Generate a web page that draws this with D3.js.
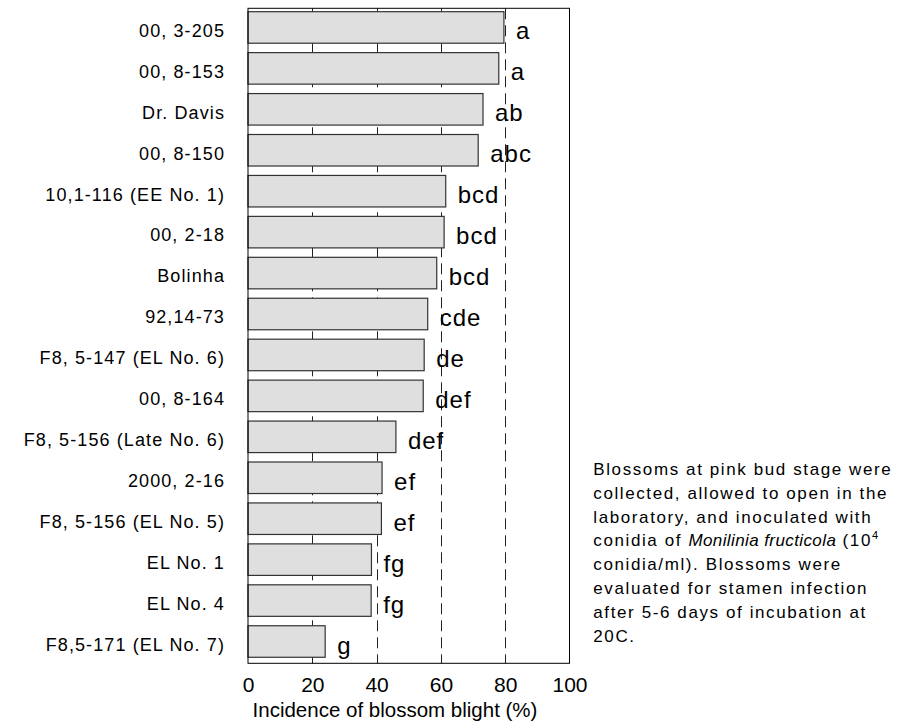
<!DOCTYPE html>
<html>
<head>
<meta charset="utf-8">
<script src="https://cdn.jsdelivr.net/npm/d3@7"></script>
<style>
body { margin: 0; background: #fff; }
text { font-family: Arial, "Liberation Sans", sans-serif; fill: #000; }
</style>
</head>
<body>
<div id="chart"></div>
<script>
// data
var cultivars = ["00, 3-205", "00, 8-153", "Dr. Davis", "00, 8-150", "10,1-116 (EE No. 1)",
    "00, 2-18", "Bolinha", "92,14-73", "F8, 5-147 (EL No. 6)", "00, 8-164",
    "F8, 5-156 (Late No. 6)", "2000, 2-16", "F8, 5-156 (EL No. 5)", "EL No. 1",
    "EL No. 4", "F8,5-171 (EL No. 7)"];
var incidence = [79.6, 78.0, 73.1, 71.6, 61.5, 61.0, 58.7, 55.9, 54.8, 54.5, 46.0, 41.7, 41.5, 38.4, 38.3, 24.0];
var groups = ["a", "a", "ab", "abc", "bcd", "bcd", "bcd", "cde", "de", "def", "def", "ef", "ef", "fg", "fg", "g"];
var xTicks = [0, 20, 40, 60, 80, 100];
var gridValues = [20, 40, 60, 80];
var xTitle = "Incidence of blossom blight (%)";
var noteLines = [
    [{t: "Blossoms at pink bud stage were"}],
    [{t: "collected, allowed to open in the"}],
    [{t: "laboratory, and inoculated with"}],
    [{t: "conidia of "}, {t: "Monilinia fructicola", it: true}, {t: " (10"}, {t: "4", sup: true}],
    [{t: "conidia/ml). Blossoms were"}],
    [{t: "evaluated for stamen infection"}],
    [{t: "after 5-6 days of incubation at"}],
    [{t: "20C."}]
];

var W = 898, H = 727;
var plot = {left: 248, right: 569.5, top: 8.3, bottom: 663.3};

var svg = d3.select("#chart").append("svg")
    .attr("width", W)
    .attr("height", H);

var x = d3.scaleLinear()
    .domain([0, 100])
    .range([plot.left, plot.right]);

var y = d3.scaleBand()
    .domain(cultivars)
    .range([plot.top, plot.bottom])
    .paddingInner(0.23)
    .paddingOuter(0.115)
    .align(0.36);

// dashed reference lines behind the bars
svg.append("g").selectAll("line")
    .data(gridValues)
    .enter().append("line")
    .attr("x1", function(d) { return Math.round(x(d)) + 0.5; })
    .attr("x2", function(d) { return Math.round(x(d)) + 0.5; })
    .attr("y1", plot.top)
    .attr("y2", plot.bottom)
    .style("stroke", "#222")
    .style("stroke-width", 1)
    .style("stroke-dasharray", "11,6");

var rows = cultivars.map(function(c, i) {
    return {name: c, value: incidence[i], group: groups[i]};
});

// bars
svg.append("g").selectAll("rect")
    .data(rows)
    .enter().append("rect")
    .attr("x", x(0))
    .attr("y", function(d) { return y(d.name); })
    .attr("width", function(d) { return x(d.value) - x(0); })
    .attr("height", y.bandwidth())
    .style("fill", "#dfdfdf")
    .style("stroke", "#333")
    .style("stroke-width", 1.2);

// significance letters
svg.append("g").selectAll("text")
    .data(rows)
    .enter().append("text")
    .attr("x", function(d) { return x(d.value) + 12; })
    .attr("y", function(d) { return y(d.name) + y.bandwidth() / 2 + 12; })
    .style("font-size", "24px")
    .style("letter-spacing", "1px")
    .text(function(d) { return d.group; });

// category labels
svg.append("g").selectAll("text")
    .data(rows)
    .enter().append("text")
    .attr("x", 225)
    .attr("y", function(d) { return y(d.name) + y.bandwidth() / 2; })
    .attr("dy", "0.52em")
    .attr("text-anchor", "end")
    .style("font-size", "18px")
    .style("letter-spacing", "1.1px")
    .text(function(d) { return d.name; });

// frame
svg.append("rect")
    .attr("x", plot.left)
    .attr("y", plot.top)
    .attr("width", plot.right - plot.left)
    .attr("height", plot.bottom - plot.top)
    .style("fill", "none")
    .style("stroke", "#000")
    .style("stroke-width", 1);

// x axis labels
var xAxis = svg.append("g")
    .attr("transform", "translate(0," + plot.bottom + ")")
    .call(d3.axisBottom(x).tickValues(xTicks).tickSize(0).tickPadding(14));
xAxis.select(".domain").remove();
xAxis.selectAll("text")
    .style("font-family", "Arial, 'Liberation Sans', sans-serif")
    .style("font-size", "21px")
    .attr("dy", "0.71em");

svg.append("text")
    .attr("x", 395)
    .attr("y", 716.7)
    .attr("text-anchor", "middle")
    .style("font-size", "20.5px")
    .text(xTitle);

// note on the right
var note = svg.append("g");
noteLines.forEach(function(line, i) {
    var t = note.append("text")
        .attr("x", 593.3)
        .attr("y", 475 + i * 23.8)
        .style("font-size", "17px")
        .style("letter-spacing", "1.6px");
    line.forEach(function(seg) {
        var s = t.append("tspan").text(seg.t);
        if (seg.it) s.style("font-style", "italic").style("letter-spacing", "0.4px");
        if (seg.sup) s.attr("dy", -7).style("font-size", "11px").style("letter-spacing", "0px");
    });
});
</script>
</body>
</html>
